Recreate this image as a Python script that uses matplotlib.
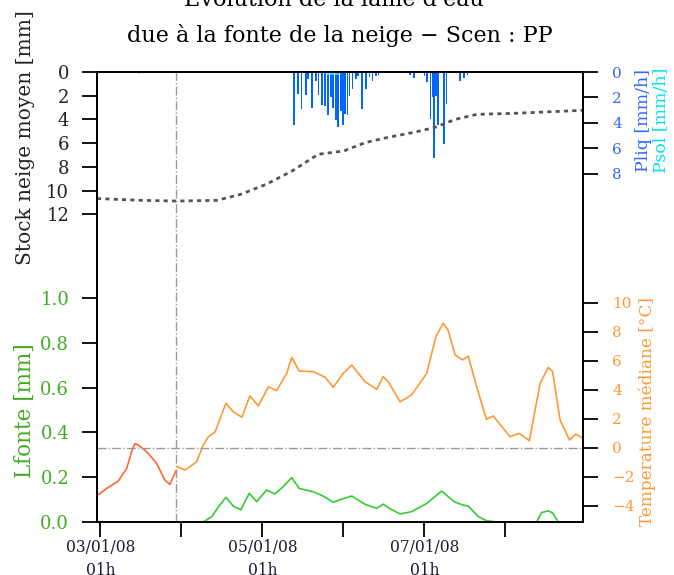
import numpy as np
import matplotlib.pyplot as plt

plt.rcParams['font.family'] = ['DejaVu Serif']

# heures depuis le 03/01/08 00h
temp_red_h = [0, 2.9, 6.3, 8.8, 10.2, 11.2, 12.2, 14.7, 17.7, 20.1, 21.6, 23.4]
temp_red = [-3.3, -2.8, -2.3, -1.42, -0.3, 0.28, 0.2, -0.27, -1.08, -2.23, -2.53, -1.6]

temp_h = [23.8, 26.1, 29.5, 31.5, 33, 35, 38.2, 40.4, 42.9, 45.3, 47.8, 50.8,
          53.2, 56.2, 57.7, 59.9, 64.1, 67.6, 70, 73, 75.5, 79.4, 82.9, 84.8,
          86.3, 89.8, 93.2, 97.7, 100.4, 102.6, 104, 106.1, 108.3, 110, 112.5,
          115.4, 117.4, 122.4, 125.1, 128.1, 131.3, 133.7, 135, 137.2, 140,
          141.9, 144]
temp = [-1.31, -1.54, -0.97, 0.19, 0.76, 1.1, 3.06, 2.48, 2.1, 3.57, 2.88, 4.2,
        3.93, 5.13, 6.23, 5.29, 5.24, 4.86, 4.17, 5.13, 5.7, 4.55, 4.03, 4.9,
        4.55, 3.17, 3.63, 5.13, 7.66, 8.58, 8.12, 6.4, 6.05, 6.32, 4.2,
        1.96, 2.19, 0.76, 0.99, 0.48, 4.44, 5.54, 5.24, 1.91, 0.53,
        0.94, 0.65]

lfonte_h = [0, 31.5, 34, 36, 38.2, 40.4, 42.6, 45.1, 47.3, 50.3, 52.7, 55.2,
            57.7, 59.9, 64.1, 67, 70, 72, 75.5, 79.4, 82.9, 84.8, 86.6, 89.8,
            93.2, 97.7, 102.1, 105.8, 108.3, 110, 113, 115.4, 118.4, 130.3,
            131.7, 133.7, 135, 136.7, 144]
lfonte = [0, 0, 0.024, 0.068, 0.11, 0.071, 0.054, 0.128, 0.091, 0.143, 0.125, 0.158,
          0.198, 0.15, 0.135, 0.116, 0.088, 0.1, 0.116, 0.079, 0.061, 0.08, 0.061, 0.036,
          0.046, 0.083, 0.138, 0.091, 0.076, 0.071, 0.024, 0.006, 0, 0,
          0.042, 0.05, 0.04, 0, 0]

stock_h = [0, 13.3, 23.4, 35.6, 42.6, 50.2, 57.8, 65.5, 73.1, 79.5, 85.9, 93.5,
           99.9, 106.2, 112.6, 124, 144]
stock = [10.67, 10.82, 10.88, 10.82, 10.31, 9.46, 8.35, 6.94, 6.66, 5.95, 5.53, 5.11,
         4.69, 3.99, 3.57, 3.48, 3.23]

pliq_h = [58.4, 59.6, 60.6, 61.9, 62.6, 63.8, 64.8, 65.6, 66.6, 67.6, 68.5, 69.3,
          70.0, 70.8, 71.5, 72.2, 72.9, 73.5, 74.2, 74.8, 75.7, 76.7, 77.4, 78.6,
          79.7, 80.7, 81.6, 82.6, 83.4, 84.2, 92.7, 94, 97, 97.7, 98.8, 99.4,
          99.9, 100.5, 101.1, 102.9, 103.6, 107.6, 108.8, 109.8]
pliq = [4.2, 1.7, 2.9, 1.8, 0.57, 2.8, 0.7, 1.8, 2.6, 2.65, 3.4, 2.0,
        2.8, 3.8, 4.3, 3.05, 4.2, 3.3, 3.35, 1.9, 1.35, 0.57, 0.3, 2.9,
        1.35, 0.4, 0.7, 0.35, 0.2, 0.1, 0.26, 0.45, 0.3, 0.8, 3.7, 2.0,
        6.8, 1.9, 4.2, 5.65, 2.5, 0.7, 0.45, 0.26]

psol_h = [12.6, 68.5, 69.3, 70.0, 70.8, 71.5]
psol = [0.15, 0.25, 0.25, 0.25, 0.25, 0.2]

tick_h = [1, 25, 49, 73, 97, 121]
tick_lab = ['03/01/08\n01h', '', '05/01/08\n01h', '', '07/01/08\n01h', '']

c_green = '#33cc33'
c_green_lab = '#44aa22'
c_orange = '#ff9933'
c_red = '#ff6633'
c_blue = '#0066ff'
c_blue_lab = '#3366ff'
c_cyan = '#00e5ee'

W, H = 674, 575
fig = plt.figure(figsize=(W / 100, H / 100), dpi=100)
ax = fig.add_axes([97 / W, 1 - 522 / H, 486 / W, 450 / H])
ax_t = ax.twinx()
ax_p = ax.twinx()
ax_s = ax.twinx()

tk = dict(direction='out', length=11, width=1.3, color='black')

# Lfonte
ax.plot(lfonte_h, lfonte, color=c_green, lw=1.2)
ax.set_xlim(0, 144)
ax.set_ylim(0, 2.009)
ax.set_yticks(np.arange(0, 1.01, 0.2))
ax.set_yticklabels(['%.1f' % v for v in np.arange(0, 1.01, 0.2)])
ax.tick_params(axis='y', labelsize=13, labelcolor=c_green_lab, pad=9, **tk)
ax.set_xticks(tick_h)
ax.set_xticklabels(tick_lab)
ax.tick_params(axis='x', labelsize=11.2, labelcolor='#1a1a33', pad=1, **tk)
for lbl in ax.get_xticklabels():
    lbl.set_linespacing(1.5)
ax.axvline(23.5, color='#999999', lw=1, ls='-.')

# temperature
ax_t.plot(temp_red_h, temp_red, color=c_red, lw=1.2)
ax_t.plot(temp_h, temp, color=c_orange, lw=1.2)
ax_t.axhline(0, color='#999999', lw=1, ls='-.')
ax_t.set_ylim(-5.12, 25.9)
ax_t.set_yticks(range(-4, 11, 2))
ax_t.tick_params(axis='y', labelsize=11, labelcolor=c_orange, pad=10, **tk)

# precipitations
ax_p.bar(pliq_h, pliq, width=0.5, color=c_blue, align='center')
ax_p.bar(psol_h, psol, width=0.5, color=c_cyan, align='center')
ax_p.set_ylim(35.4, 0)
ax_p.set_yticks(range(0, 9, 2))
ax_p.tick_params(axis='y', labelsize=11, labelcolor=c_blue_lab, pad=10, **tk)

# stock de neige
ax_s.plot(stock_h, stock, color='#555555', lw=2, ls=(0, (1.5, 1.5)))
ax_s.set_ylim(37.94, 0)
ax_s.set_yticks(range(0, 13, 2))
ax_s.yaxis.tick_left()
ax_s.tick_params(axis='y', labelsize=13, labelcolor='#222222', pad=9, **tk)

for a in (ax, ax_t, ax_p, ax_s):
    for sp in a.spines.values():
        sp.set_linewidth(1.4)

def fx(px):
    return px / W

def fy(py):
    return 1 - py / H

fig.text(fx(334), fy(6), "Évolution de la lame d'eau", ha='center', va='baseline', fontsize=16)
fig.text(fx(340), fy(42), 'due à la fonte de la neige − Scen : PP', ha='center', va='baseline', fontsize=16)

fig.text(fx(26), fy(138), 'Stock neige moyen [mm]', rotation=90, ha='center', va='center',
         fontsize=14.5, color='#222222')
fig.text(fx(25), fy(411), 'Lfonte [mm]', rotation=90, ha='center', va='center',
         fontsize=15.5, color=c_green_lab)
fig.text(fx(644), fy(120), 'Pliq [mm/h]', rotation=90, ha='center', va='center',
         fontsize=12.5, color=c_blue_lab)
fig.text(fx(661), fy(120), 'Psol [mm/h]', rotation=90, ha='center', va='center',
         fontsize=12.5, color=c_cyan)
fig.text(fx(647), fy(411), 'Temperature médiane [°C]', rotation=90, ha='center', va='center',
         fontsize=12.2, color=c_orange)

fig.savefig('out.png', dpi=100)
